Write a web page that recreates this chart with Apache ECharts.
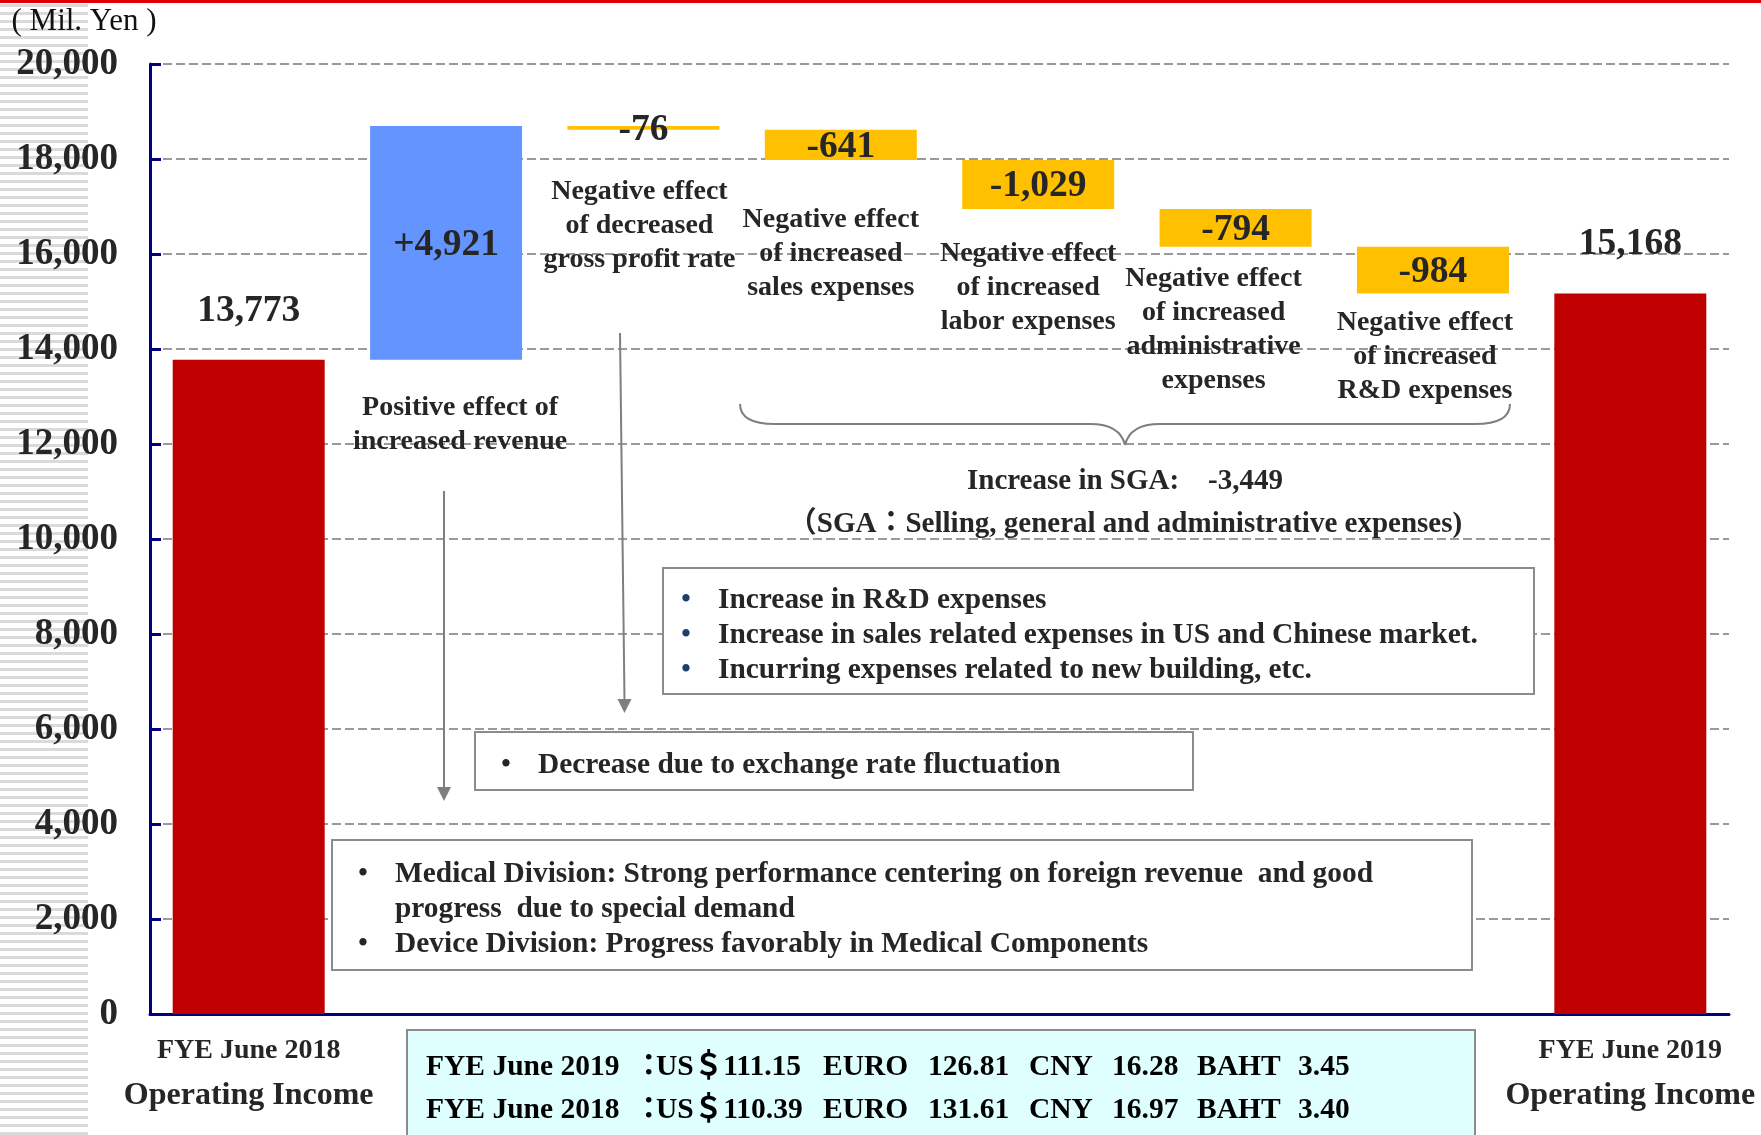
<!DOCTYPE html>
<html>
<head>
<meta charset="utf-8">
<script src="https://cdn.jsdelivr.net/npm/echarts@6/dist/echarts.min.js"></script>
<style>
html,body{margin:0;padding:0;background:#fff;}
#stripes{position:absolute;left:0;top:0;width:88px;height:1135px;
  background:repeating-linear-gradient(to bottom,#dadada 0,#dadada 3px,#fff 3px,#fff 8px);
  background-position:0 4px;}
#chart{position:absolute;left:0;top:0;width:1761px;height:1135px;}
</style>
</head>
<body>
<div id="stripes"></div>
<div id="chart"></div>
<script>
// ---- data ----
const categories = ['FYE June 2018 Operating Income', 'Revenue', 'Gross profit rate', 'Sales expenses',
  'Labor expenses', 'Administrative expenses', 'R&D expenses', 'FYE June 2019 Operating Income'];
const axisTop = ['FYE June 2018', '', '', '', '', '', '', 'FYE June 2019'];
const axisBottom = ['Operating Income', '', '', '', '', '', '', 'Operating Income'];
const kinds = ['total', 'delta', 'delta', 'delta', 'delta', 'delta', 'delta', 'total'];
const values = [13773, 4921, -76, -641, -1029, -794, -984, 15168];
const valueLabels = ['13,773', '+4,921', '-76', '-641', '-1,029', '-794', '-984', '15,168'];
const effectNotes = ['', 'Positive effect of\nincreased revenue', 'Negative effect\nof decreased\ngross profit rate',
  'Negative effect\nof increased\nsales expenses', 'Negative effect\nof increased\nlabor expenses',
  'Negative effect\nof increased\nadministrative\nexpenses', 'Negative effect\nof increased\nR&D expenses'];
const yMin = 0, yMax = 20000, yStep = 2000;
const sgaLine1 = 'Increase in SGA:    -3,449';
const sgaLine2 = '（SGA：Selling, general and administrative expenses)';
const sgaReasons = ['Increase in R&D expenses', 'Increase in sales related expenses in US and Chinese market.',
  'Incurring expenses related to new building, etc.'];
const fxReason = ['Decrease due to exchange rate fluctuation'];
const revenueReasons = ['Medical Division: Strong performance centering on foreign revenue  and good\nprogress  due to special demand',
  'Device Division: Progress favorably in Medical Components'];
const fxHeaders = ['FYE June 2019', 'FYE June 2018'];
const fxNames = ['US＄', 'EURO', 'CNY', 'BAHT'];
const fx2019 = ['111.15', '126.81', '16.28', '3.45'];
const fx2018 = ['110.39', '131.61', '16.97', '3.40'];

// ---- build waterfall ----
const COLORS = { total: '#C00000', up: '#6495FF', down: '#FFC000' };
const baseData = [], barData = [];
let running = 0;
values.forEach((v, i) => {
  let base, h, color;
  if (kinds[i] === 'total') { base = 0; h = v; running = v; color = COLORS.total; }
  else if (v >= 0) { base = running; h = v; running += v; color = COLORS.up; }
  else { base = running + v; h = -v; running += v; color = COLORS.down; }
  baseData.push(base);
  barData.push({
    value: h,
    itemStyle: { color },
    label: kinds[i] === 'total'
      ? { show: true, position: 'top', distance: 30, formatter: valueLabels[i] }
      : { show: true, position: 'inside', offset: [0, 2], formatter: valueLabels[i] }
  });
});

const SERIF = '"Liberation Serif", "Times New Roman", "Noto Sans CJK JP", serif';
const TXT = '#262626';
const f = (size, bold) => (bold === false ? '' : 'bold ') + size + 'px ' + SERIF;

function text(x, y, str, opt) {
  opt = opt || {};
  return {
    type: 'text', x, y, z: 10,
    style: {
      text: str, fill: opt.fill || TXT, font: opt.font || f(28),
      textAlign: opt.align || 'center', align: opt.align || 'center',
      textVerticalAlign: 'middle', verticalAlign: 'middle',
      lineHeight: opt.lineHeight || 34
    }
  };
}

const chart = echarts.init(document.getElementById('chart'), null, { renderer: 'canvas' });

const graphics = [];
graphics.push({ type: 'rect', shape: { x: 0, y: 0, width: 1761, height: 3 }, style: { fill: '#E00000' }, z: 10 });
graphics.push(text(84, 22, '( Mil. Yen )', { font: f(31, false), fill: '#111' }));

chart.setOption({
  animation: false,
  grid: { left: 150, right: 32, top: 64, bottom: 121, containLabel: false },
  xAxis: {
    type: 'category', data: categories,
    axisLine: { lineStyle: { color: '#000080', width: 3 } },
    axisTick: { show: false },
    axisLabel: {
      interval: 0, margin: 17,
      formatter: (v, i) => axisTop[i] ? '{a|' + axisTop[i] + '}\n{b|' + axisBottom[i] + '}' : '',
      rich: {
        a: { fontFamily: SERIF, fontWeight: 'bold', fontSize: 28, lineHeight: 40, color: TXT },
        b: { fontFamily: SERIF, fontWeight: 'bold', fontSize: 32, lineHeight: 50, color: TXT }
      }
    }
  },
  yAxis: {
    type: 'value', min: yMin, max: yMax, interval: yStep,
    axisLine: { show: true, lineStyle: { color: '#000080', width: 3 } },
    axisTick: { show: true, inside: true, length: 11, lineStyle: { color: '#000080', width: 3 } },
    axisLabel: {
      margin: 32, color: TXT, fontFamily: SERIF, fontWeight: 'bold', fontSize: 37,
      padding: [5, 0, 0, 0],
      formatter: v => v.toLocaleString('en-US')
    },
    splitLine: { lineStyle: { color: '#9a9a9a', width: 2, type: [9, 4] } }
  },
  series: [
    { type: 'bar', stack: 'w', data: baseData, barWidth: '77%', silent: true,
      itemStyle: { color: 'rgba(0,0,0,0)' } },
    { type: 'bar', stack: 'w', data: barData, barWidth: '77%',
      label: { color: TXT, fontFamily: SERIF, fontWeight: 'bold', fontSize: 37.5 } }
  ],
  graphic: graphics
});

// annotations positioned relative to category centres
const noteY = [0, 425, 225.5, 254, 287.5, 329.5, 356.5];
const noteDx = [0, 14, -4, -10, -10, -22, -8];
effectNotes.forEach((n, i) => {
  if (!n) return;
  const px = chart.convertToPixel({ xAxisIndex: 0 }, i);
  graphics.push(text(px + noteDx[i], noteY[i], n, { lineHeight: 34 }));
});

// brace
const braceStyle = { stroke: '#7f7f7f', lineWidth: 2, fill: null };
const bz = (x1, y1, cx, cy, x2, y2) => ({ type: 'bezierCurve', z: 10, shape: { x1, y1, x2, y2, cpx1: cx, cpy1: cy }, style: braceStyle });
const ln = (x1, y1, x2, y2) => ({ type: 'line', z: 10, shape: { x1, y1, x2, y2 }, style: braceStyle });
graphics.push(bz(740, 404, 740, 424, 775, 424));
graphics.push(ln(775, 424, 1090, 424));
graphics.push(bz(1090, 424, 1120, 424, 1125, 445));
graphics.push(bz(1125, 445, 1130, 424, 1160, 424));
graphics.push(ln(1160, 424, 1475, 424));
graphics.push(bz(1475, 424, 1510, 424, 1510, 404));
graphics.push(text(1125, 482, sgaLine1, { font: f(29) }));
graphics.push(text(1125, 524.5, sgaLine2, { font: f(29) }));

// boxes
function box(x, y, w, h, fill) {
  return { type: 'rect', z: 9, shape: { x, y, width: w, height: h }, style: { fill: fill || '#fff', stroke: '#8c8c8c', lineWidth: 2 } };
}
function bullets(list, bx, tx, y0, step, bulletColor) {
  let y = y0;
  list.forEach(s => {
    graphics.push(text(bx, y, '•', { fill: bulletColor, font: f(27) }));
    const lines = s.split('\n');
    graphics.push({
      type: 'text', x: tx, y: y - step / 2, z: 10,
      style: { text: s, fill: TXT, font: f(29.4), textAlign: 'left', align: 'left',
        textVerticalAlign: 'top', verticalAlign: 'top', lineHeight: step }
    });
    y += step * lines.length;
  });
}
graphics.push(box(663, 568, 871, 126));
bullets(sgaReasons, 686, 718, 600, 35.2, '#1F3E6E');
graphics.push(box(475, 732, 718, 58));
bullets(fxReason, 506, 538, 765, 35, TXT);
graphics.push(box(332, 840, 1140, 130));
bullets(revenueReasons, 363, 395, 874, 35.2, TXT);

// exchange-rate box
graphics.push(box(407, 1030, 1068, 130, '#DFFFFF'));
const fxCols = [426, 634, 656, 823, 928, 1029, 1112, 1197, 1298];
[fx2019, fx2018].forEach((row, r) => {
  const y = r === 0 ? 1067.5 : 1110;
  const pieces = [fxHeaders[r], '：', fxNames[0] + row[0], fxNames[1], row[1], fxNames[2], row[2], fxNames[3], row[3]];
  pieces.forEach((p, k) => {
    graphics.push({
      type: 'text', x: fxCols[k], y, z: 10,
      style: { text: p, fill: '#000', font: f(29.5), textAlign: 'left', align: 'left',
        textVerticalAlign: 'middle', verticalAlign: 'middle' }
    });
  });
});

// arrows
function arrow(x1, y1, x2, y2) {
  graphics.push({ type: 'line', z: 10, shape: { x1, y1, x2, y2: y2 - 12 }, style: { stroke: '#7f7f7f', lineWidth: 2 } });
  graphics.push({ type: 'polygon', z: 10, shape: { points: [[x2 - 7, y2 - 14], [x2 + 7, y2 - 14], [x2, y2]] }, style: { fill: '#7f7f7f' } });
}
arrow(444, 491, 444, 801);
arrow(620, 333, 624.5, 713);

chart.setOption({ graphic: graphics });
</script>
</body>
</html>
